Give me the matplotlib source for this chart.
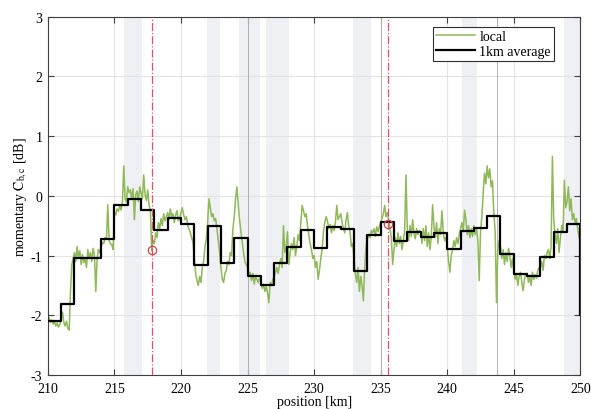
import numpy as np
import matplotlib
matplotlib.use("Agg")
import matplotlib.pyplot as plt

plt.rcParams['font.family'] = ['Liberation Serif', 'DejaVu Serif']
plt.rcParams['mathtext.fontset'] = 'stix'
plt.rcParams['axes.unicode_minus'] = False

# ---- data ----
pos_start = 210.0
pos_step = 0.1
local_values = [
    -2.00, -2.05, -2.12, -2.08, -2.15, -2.10, -2.18, -2.13, -2.20, -2.15,   # 210
    -2.05, -1.95, -2.12, -2.18, -2.10, -2.22, -2.25, -1.60, -1.15, -1.05,   # 211
    -0.95, -1.10, -0.85, -1.05, -0.92, -1.15, -0.98, -1.12, -1.05, -1.20,   # 212
    -0.90, -1.05, -0.95, -1.10, -0.88, -1.00, -1.60, -1.05, -0.90, -0.95,   # 213
    -0.85, -0.78, -0.80, -0.70, -0.72, -0.15, -0.75, -0.80, -0.82, -0.90,   # 214
    -0.28, -0.32, -0.22, -0.26, -0.15, -0.24, -0.10, 0.50, -0.05, -0.10,    # 215
    0.15, 0.05, 0.10, -0.05, 0.12, -0.40, 0.02, 0.08, -0.10, 0.15,          # 216
    0.05, -0.05, 0.35, 0.02, -0.08, 0.10, -0.15, -0.25, -0.92, -0.75,       # 217
    -0.80, -0.62, -0.70, -0.45, -0.55, -0.38, -0.50, -0.30, -0.42, -0.35,   # 218
    -0.28, -0.40, -0.22, -0.35, -0.30, -0.45, -0.32, -0.25, -0.42, -0.38,   # 219
    -0.28, -0.20, -0.32, -0.40, -0.35, -0.50, -0.55, -0.62, -0.70, -0.78,   # 220
    -1.05, -1.30, -1.42, -1.50, -1.35, -1.45, -1.20, -1.10, -0.85, -0.72,   # 221
    -0.45, -0.05, -0.20, -0.35, -0.30, -0.42, -0.38, -0.55, -0.75, -0.95,   # 222
    -1.20, -1.40, -1.45, -1.30, -1.25, -1.10, -1.15, -0.95, -1.00, -0.55,   # 223
    -0.35, -0.05, 0.15, -0.15, -0.40, -0.60, -0.78, -0.95, -1.10, -1.15,    # 224
    -1.20, -1.35, -1.28, -1.42, -1.30, -1.48, -1.35, -1.40, -1.45, -1.38,   # 225
    -1.42, -1.55, -1.48, -1.60, -1.52, -1.62, -1.79, -1.45, -1.50, -1.40,   # 226
    -1.35, -1.28, -1.20, -1.30, -1.15, -1.05, -1.20, -0.50, -0.95, -0.85,   # 227
    -0.60, -1.15, -0.95, -0.80, -0.90, -0.70, -1.00, -0.85, -0.65, -0.75,   # 228
    -0.45, -0.16, -0.25, -0.35, -0.30, -0.50, -0.65, -0.80, -0.90, -1.05,   # 229
    -1.00, -1.20, -1.10, -1.40, -1.25, -1.05, -0.90, -0.60, -0.45, -0.35,   # 230
    -0.42, -0.55, -0.48, -0.62, -0.50, -0.58, -0.45, -0.16, -0.40, -0.35,   # 231
    -0.30, -0.45, -0.55, -0.62, -0.40, -0.28, -0.50, -0.60, -0.85, -0.80,   # 232
    -1.05, -1.30, -1.45, -1.20, -1.60, -1.35, -1.50, -1.76, -1.20, -0.85,   # 233
    -0.72, -0.65, -0.70, -0.58, -0.62, -0.55, -0.68, -0.52, -0.60, -0.50,   # 234
    -0.45, -0.38, -0.30, -0.16, -0.35, -0.28, -0.40, -0.55, -0.70, -1.15,   # 235
    -0.90, -0.70, -0.85, -0.62, -0.80, -0.68, -0.90, -0.75, -0.60, 0.35,    # 236
    -0.55, -0.75, -0.50, -0.68, -0.40, -0.62, -0.72, -0.55, -0.65, -0.58,   # 237
    -0.60, -0.80, -0.55, -0.75, -0.50, -0.85, -0.62, -0.90, -0.70, -0.15,   # 238
    -0.50, -0.70, -0.45, -0.80, -0.55, -0.65, -0.25, -0.60, -0.75, -0.70,   # 239
    -0.85, -1.10, -1.28, -1.00, -0.90, -0.75, -0.85, -0.70, -0.80, -0.65,   # 240
    -0.55, -0.45, -0.60, -0.24, -0.40, -0.65, -0.50, -0.70, -0.55, -0.68,   # 241
    -0.50, -0.65, -0.55, -0.75, -1.42, -0.60, -0.35, 0.05, 0.38, 0.20,      # 242
    0.50, 0.30, 0.45, 0.15, 0.25, -0.30, -0.60, -1.79, -0.90, -0.75,        # 243
    -0.85, -1.05, -0.90, -1.15, -0.95, -1.10, -0.88, -1.00, -1.20, -1.05,   # 244
    -1.25, -1.40, -1.30, -1.50, -1.35, -1.28, -1.45, -1.59, -1.40, -1.30,   # 245
    -1.30, -1.45, -1.35, -1.50, -1.28, -1.40, -1.32, -1.38, -1.25, -1.20,   # 246
    -1.20, -1.10, -1.25, -1.00, -1.05, -0.95, -0.90, -1.05, -0.85, 0.66,    # 247
    -0.40, -0.65, -0.80, -0.55, -0.95, -0.70, -0.50, -0.60, 0.26, -0.20,    # 248
    -0.10, 0.15, -0.25, -0.05, -0.40, -0.30, -0.45, -0.38, -0.55, -0.70,    # 249
    -0.75,
]

km_edges = list(range(210, 251))
avg_values = [-2.10, -1.82, -1.04, -1.04, -0.73, -0.16, -0.05, -0.24, -0.58, -0.38,
              -0.48, -1.16, -0.50, -1.12, -0.71, -1.34, -1.49, -1.13, -0.86, -0.58,
              -0.87, -0.53, -0.56, -1.26, -0.66, -0.44, -0.75, -0.61, -0.69, -0.62,
              -0.89, -0.59, -0.54, -0.34, -0.97, -1.31, -1.34, -1.02, -0.60, -0.47]
avg_end_value = -2.0

shaded_bands = [(215.75, 217.1), (221.95, 222.9), (224.35, 225.95), (226.35, 228.15),
                (232.95, 234.25), (241.1, 242.25), (248.75, 249.95)]
marker_pos = [217.85, 235.55]
marker_val = [-0.90, -0.48]
ref_lines = [225.0, 235.0, 243.75]

# ---- figure ----
fig = plt.figure(figsize=(5.91, 4.10), dpi=100)
ax = fig.add_axes([0.081, 0.083, 0.901, 0.874])

for a, b in shaded_bands:
    ax.axvspan(a, b, color='#eef0f3', zorder=0, lw=0)

ax.grid(True, color='#e3e3e3', lw=0.8, zorder=0.5)
ax.set_axisbelow(True)
for x in ref_lines:
    ax.axvline(x, color='#b0b0b0', lw=0.7, zorder=0.8)

x_local = pos_start + pos_step * np.arange(len(local_values))
ax.plot(x_local, local_values, color='#8fb858', lw=1.1, label='local', zorder=2)

xs = km_edges + [250]
ys = avg_values + [avg_values[-1], avg_end_value]
ax.plot(xs, ys, drawstyle='steps-post', color='black', lw=1.6,
        label='1km average', zorder=3)

for xp, yp in zip(marker_pos, marker_val):
    ax.axvline(xp, color='#e0506e', lw=0.9, ls='-.', zorder=4)
    ax.plot([xp], [yp], marker='o', ms=6, mfc='none', mec='#d84050', mew=0.9, zorder=5)

ax.set_xlim(210, 250)
ax.set_ylim(-3, 3)
ax.set_xticks(np.arange(210, 251, 5))
ax.set_yticks(np.arange(-3, 4, 1))
ax.tick_params(direction='in', top=True, right=True, length=4, width=0.8,
               color='#404040', labelsize=10)
ax.tick_params(axis='x', pad=5)
ax.tick_params(axis='y', pad=4)
for s in ax.spines.values():
    s.set_color('#404040')
    s.set_linewidth(0.8)

ax.set_xlabel('position [km]', fontsize=10, labelpad=0)
ax.set_ylabel('momentary $\\mathrm{C}_{\\mathrm{b,c}}$ [dB]', fontsize=10, labelpad=1)

leg = ax.legend(loc='upper right', bbox_to_anchor=(0.938, 0.932),
                bbox_transform=fig.transFigure, fancybox=False, framealpha=1,
                edgecolor='#303030', fontsize=10, handlelength=2.8,
                borderpad=0.25, labelspacing=0.1, handletextpad=0.3,
                borderaxespad=0)
leg.get_frame().set_linewidth(0.8)

fig.savefig('out.png', dpi=100)
